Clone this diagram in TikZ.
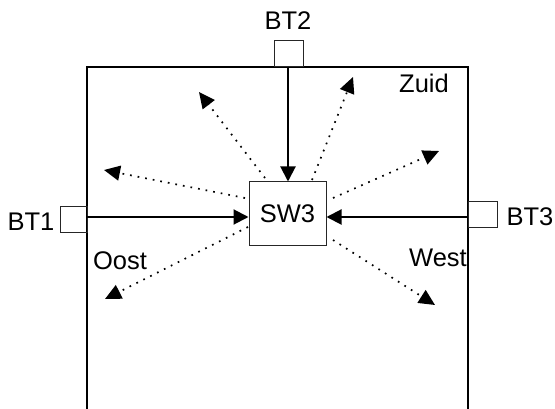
\documentclass[tikz,border=0pt]{standalone}
\usepackage{fontspec}
\setmainfont{Liberation Sans}
\usetikzlibrary{arrows.meta}
\begin{document}
\begin{tikzpicture}[x=1pt,y=-1pt,
  lbl/.style={font=\fontsize{25.5}{29}\selectfont, inner sep=0pt},
  btbox/.style={draw=black!85, line width=1pt, minimum width=29pt, minimum height=26pt, inner sep=0pt},
  swbox/.style={draw=black!85, line width=1pt, minimum width=77pt, minimum height=64pt, inner sep=0pt, font=\fontsize{25.5}{29}\selectfont},
  solidarr/.style={line width=2pt, -{Triangle[length=15pt,width=15pt]}},
  dotarr/.style={line width=1.7pt, dash pattern=on 1.7pt off 6pt, -{Triangle[length=16pt,width=15pt]}},
  frame/.style={line width=1.5pt}]
\useasboundingbox (0,0) rectangle (555,409);
% frame
\draw[frame] (87,409) -- (87,67) -- (468,67) -- (468,409);
% boxes
\node[btbox] (bt2) at (288.5,54) {};
\node[btbox, minimum width=27pt] (bt1) at (73.5,220) {};
\node[btbox] (bt3) at (482.5,214.5) {};
\node[swbox] (sw3) at (287.5,214) {SW3};
% labels
\node[lbl] (l2) at (288,21) {BT2};
\node[lbl] (l1) at (31,222) {BT1};
\node[lbl] (l3) at (530,217) {BT3};
\node[lbl] (zuid) at (424,83) {Zuid};
\node[lbl] (oost) at (120,261) {Oost};
\node[lbl] (west) at (438,258) {West};
% solid arrows
\coordinate (t2) at (288,67);
\coordinate (t1) at (87,217);
\coordinate (t3) at (468,217);
\draw[solidarr] (t2) -- (sw3.north -| t2);
\draw[solidarr] (t1) -- (sw3.west |- t1);
\draw[solidarr] (t3) -- (sw3.east |- t3);
% dotted arrows
\coordinate (s1) at (265,178); \coordinate (e1) at (199,92);
\coordinate (s2) at (245,198); \coordinate (e2) at (104,170);
\coordinate (s3) at (248,227); \coordinate (e3) at (105,299);
\coordinate (s4) at (312,180); \coordinate (e4) at (353,77);
\coordinate (s5) at (333,198); \coordinate (e5) at (439,151);
\coordinate (s6) at (333,240); \coordinate (e6) at (435,305);
\foreach \i in {1,...,6} {\draw[dotarr] (s\i) -- (e\i);}
\end{tikzpicture}
\end{document}
